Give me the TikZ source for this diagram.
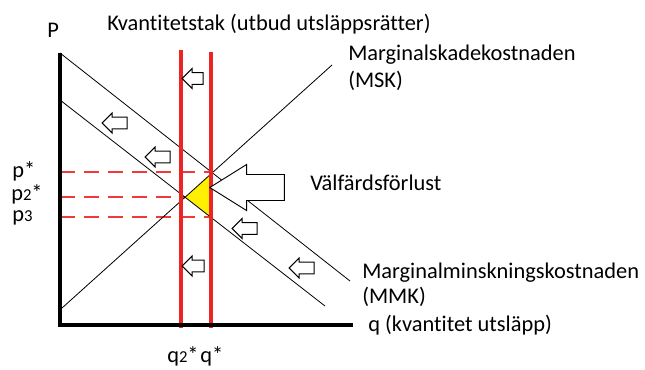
\documentclass[tikz,border=0pt]{standalone}
\usepackage{fontspec}
\setmainfont{Carlito}[Ligatures=NoCommon]
\usetikzlibrary{shapes.arrows}
\definecolor{capred}{RGB}{237,36,36}
\definecolor{lossyellow}{RGB}{255,240,0}
\newcommand{\sml}[1]{{\fontsize{12.5}{13}\selectfont #1}}

\begin{document}
\begin{tikzpicture}[x=0.75pt, y=-0.75pt, font=\fontsize{16.8}{20}\selectfont,
    curve/.style={black, line width=0.6pt},
    capline/.style={capred, line width=3pt},
    pricelevel/.style={capred!90, line width=1.5pt, dash pattern=on 11pt off 7pt},
    axisline/.style={black, line width=3pt},
    shiftarr/.style={single arrow, draw, fill=white, line width=0.7pt, shape border rotate=180,
        inner xsep=0pt, inner ysep=4pt, single arrow head extend=3.2pt},
    lossarr/.style={single arrow, draw, fill=white, line width=0.7pt, shape border rotate=180,
        inner xsep=0pt, inner ysep=9.4pt, single arrow head extend=7.5pt, single arrow tip angle=64,
        minimum height=56pt},
    lbl/.style={anchor=base west, inner sep=0pt}]
    \useasboundingbox (0,0) rectangle (645,369);

    % curves and the cap
    \coordinate (ytop) at (60,53);
    \coordinate (origin) at (60,325);
    \coordinate (xend) at (353,325);
    \coordinate (mmkA0) at (60,53);
    \coordinate (mmkA1) at (350,281);
    \coordinate (mmkB0) at (60,100);
    \coordinate (mmkB1) at (325,306);
    \coordinate (msk0) at (62,308);
    \coordinate (msk1) at (332,65);
    \coordinate (qtwoTop) at (181,50);
    \coordinate (qtwoBot) at (181,328);
    \coordinate (qstarTop) at (211,52);
    \coordinate (qstarBot) at (211,328);

    \coordinate (pstar) at (intersection of mmkA0--mmkA1 and qstarTop--qstarBot);
    \coordinate (ptwo) at (intersection of mmkB0--mmkB1 and msk0--msk1);
    \coordinate (pthree) at (intersection of mmkB0--mmkB1 and qstarTop--qstarBot);
    \coordinate (ptop) at (intersection of msk0--msk1 and qstarTop--qstarBot);

    \draw [pricelevel] (origin |- pstar) -- (pstar);
    \draw [pricelevel] (origin |- ptwo) -- (ptwo);
    \draw [pricelevel] (origin |- pthree) -- (pthree);

    \fill [lossyellow] (ptwo) -- (ptop) -- (pthree) -- cycle;

    \draw [curve] (mmkA0) -- (mmkA1);
    \draw [curve] (mmkB0) -- (mmkB1);
    \draw [curve] (msk0) -- (msk1);

    \draw [capline] (qtwoTop) -- (qtwoBot);
    \draw [capline] (qstarTop) -- (qstarBot);

    \draw [axisline] (ytop) -- (origin) -- (xend);

    % shift arrows
    \foreach \i/\ax/\ay/\al in {1/195.5/78.5/21, 2/117.5/123/25, 3/160.5/157/25,
                                4/247.5/228.5/25, 5/304.5/268/25, 6/196/266/22}{
        \node [shiftarr, minimum height=0.75*\al pt] (shift-\i) at (\ax,\ay) {};
    }
    \node [lossarr] (lossArrow) at (257.5,187.5) {};

    % labels
    \node [lbl] (pAxis) at (47,37) {P};
    \node [lbl] (capLabel) at (107,30.5) {Kvantitetstak (utbud utsläppsrätter)};
    \node [lbl] (mskLabel) at (348,60) {Marginalskadekostnaden};
    \node [lbl] (mskAbbr) at (348,87) {(MSK)};
    \node [lbl] (lossLabel) at (310,190) {Välfärdsförlust};
    \node [lbl] (mmkLabel) at (362,278) {Marginalminskningskostnaden};
    \node [lbl] (mmkAbbr) at (362,303) {(MMK)};
    \node [lbl] (qAxis) at (368,331) {q (kvantitet utsläpp)};
    \node [lbl] (pStarLabel) at (12,177) {p*};
    \node [lbl] (pTwoLabel) at (11,200) {p\sml{2}*};
    \node [lbl] (pThreeLabel) at (12,221) {p\sml{3}};
    \node [lbl] (qTwoLabel) at (167,362) {q\sml{2}*};
    \node [lbl] (qStarLabel) at (200,362) {q*};
\end{tikzpicture}
\end{document}
